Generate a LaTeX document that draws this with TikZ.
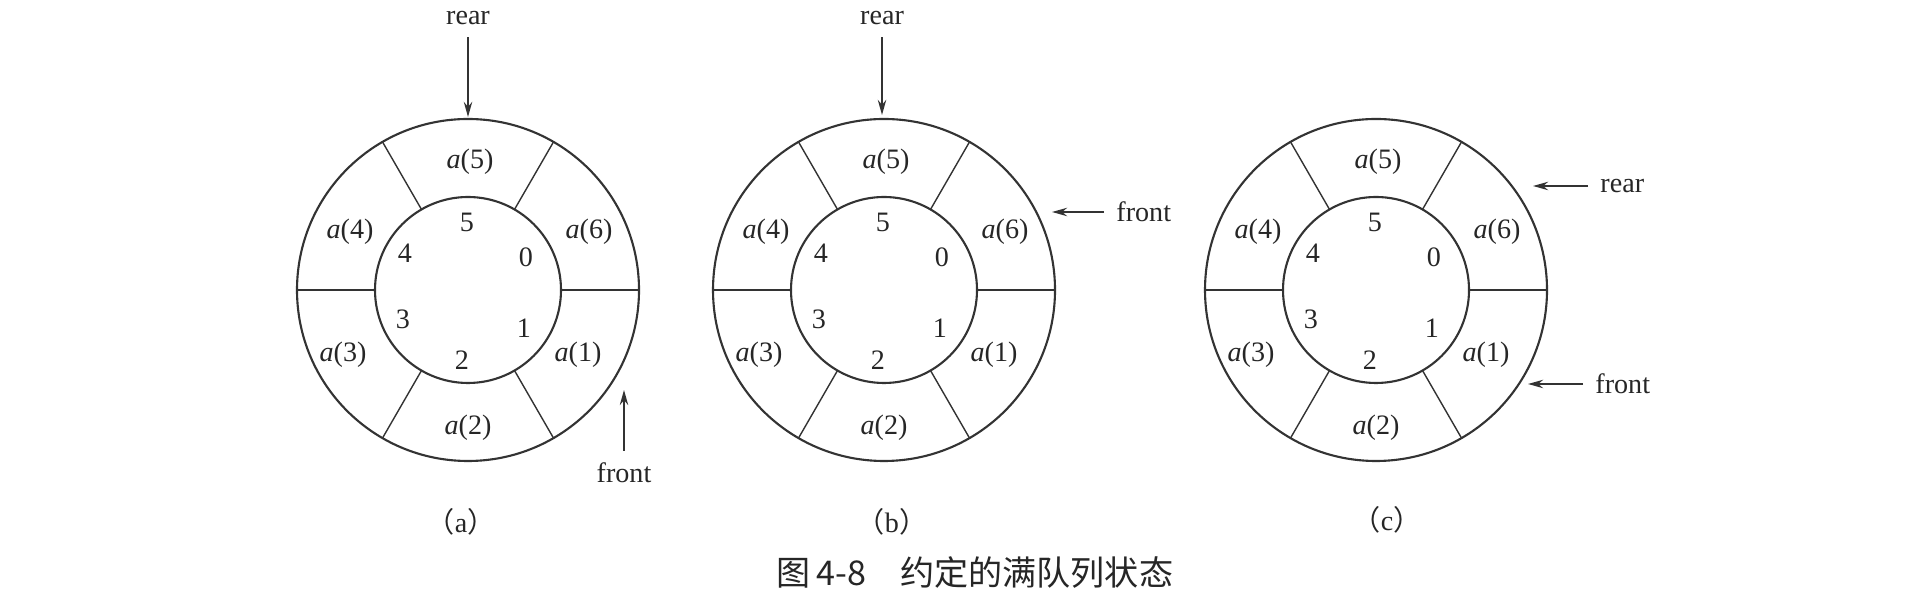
\documentclass[tikz,border=0pt]{standalone}
\usepackage{fontspec}
\setmainfont{Liberation Serif}
\newfontfamily\cjk{Noto Sans CJK SC}
\usetikzlibrary{arrows.meta}
\tikzset{
    ringline/.style={draw=black!80,line width=0.6pt},
    spoke/.style={draw=black!80,line width=0.4pt},
    ptr/.style={draw=black!80,line width=0.45pt,-{Stealth[length=4.3pt,width=2.4pt]}},
    lbl/.style={font=\fontsize{8}{9}\selectfont,text=black!85},
    sub/.style={font=\fontsize{8}{9}\selectfont,text=black!85},
    title/.style={font=\cjk\fontsize{9.7}{11}\selectfont,text=black!85},
}
\newcommand{\ring}[2] {
    \begin{scope}[shift={(#2,3.08)}]
        \coordinate (#1) at (0,0);
        \draw[ringline] (#1) circle (1.71);
        \draw[ringline] (#1) circle (0.93);
        \foreach \t in {0,60,...,300}
            \draw[spoke] (\t:0.93) -- (\t:1.71);
        \foreach \i/\x/\y in {0/0.58/0.33,1/0.56/-0.38,2/-0.06/-0.70,3/-0.65/-0.29,4/-0.63/0.37,5/-0.01/0.68}
            \node[lbl] (#1-i\i) at (\x,\y) {\i};
        \foreach \k/\x/\y in {6/1.21/0.58,1/1.10/-0.65,2/0/-1.38,3/-1.25/-0.65,4/-1.18/0.58,5/0.02/1.28}
            \node[lbl] (#1-e\k) at (\x,\y) {\textit{a}(\k)};
    \end{scope}
}

\begin{document}
\begin{tikzpicture}
    \useasboundingbox (0,0) rectangle (19.2,5.98);
    \ring{ringa}{4.68}
    \ring{ringb}{8.84}
    \ring{ringc}{13.76}

    \node[lbl] (reara) at (4.68,5.80) {rear};
    \coordinate (reara-tip) at (4.68,4.81);
    \draw[ptr] (reara) -- (reara-tip);
    \node[lbl] (fronta) at (6.24,1.25) {front};
    \coordinate (fronta-tip) at (6.24,2.08);
    \draw[ptr] (fronta) -- (fronta-tip);

    \node[lbl] (rearb) at (8.82,5.80) {rear};
    \coordinate (rearb-tip) at (8.82,4.83);
    \draw[ptr] (rearb) -- (rearb-tip);
    \node[lbl,anchor=west] (frontb) at (11.04,3.86) {front};
    \coordinate (frontb-tip) at (10.52,3.86);
    \draw[ptr] (frontb) -- (frontb-tip);

    \node[lbl,anchor=west] (rearc) at (15.88,4.12) {rear};
    \coordinate (rearc-tip) at (15.33,4.12);
    \draw[ptr] (rearc) -- (rearc-tip);
    \node[lbl,anchor=west] (frontc) at (15.83,2.14) {front};
    \coordinate (frontc-tip) at (15.28,2.14);
    \draw[ptr] (frontc) -- (frontc-tip);

    \node[sub] (capa) at (4.61,0.76) {{\cjk （}a{\cjk ）}};
    \node[sub] (capb) at (8.92,0.76) {{\cjk （}b{\cjk ）}};
    \node[sub] (capc) at (13.87,0.78) {{\cjk （}c{\cjk ）}};
    \node[title] (fig) at (9.75,0.25) {图\,4-8\quad 约定的满队列状态};
\end{tikzpicture}
\end{document}
